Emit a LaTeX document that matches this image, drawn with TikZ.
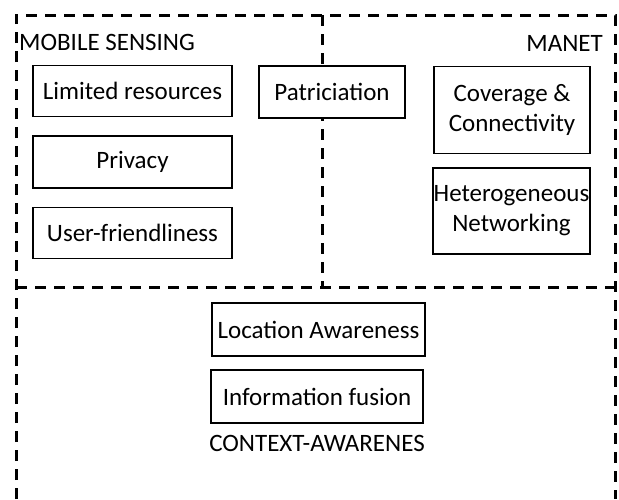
\documentclass[tikz,border=0pt]{standalone}
\usepackage{fontspec}
\setmainfont{Carlito}

\begin{document}
\begin{tikzpicture}[x=1pt,y=-1pt,
  issue/.style={draw,fill=white,line width=1.5pt,inner sep=0pt,align=center,
    font=\fontsize{25}{30}\selectfont},
  area/.style={line width=3pt,dash pattern=on 11pt off 8pt},
  arealabel/.style={inner sep=0pt,font=\fontsize{25}{30}\selectfont}]
\useasboundingbox (0,0) rectangle (619,499);

% dashed regions
\coordinate (tl) at (16,15);
\coordinate (tr) at (615,15);
\coordinate (bl) at (16,499);
\coordinate (br) at (615,499);
\coordinate (ml) at (16,287);
\coordinate (mr) at (615,287);
\coordinate (mt) at (322,15);
\coordinate (mb) at (322,287);
\draw[area] (bl) -- (tl) -- (tr) -- (br);
\draw[area] (ml) -- (mr);
\draw[area] (mt) -- (mb);

% mobile sensing
\node[arealabel,anchor=west] (mslabel) at (19,42) {MOBILE SENSING};
\node[issue,minimum width=199pt,minimum height=51pt] (limited) at (132.5,91) {Limited resources};
\node[issue,minimum width=199pt,minimum height=52pt] (privacy) at (132.5,162) {Privacy};
\node[issue,minimum width=199pt,minimum height=51pt] (userfr) at (132.5,233) {User-friendliness};

\node[issue,minimum width=146pt,minimum height=52pt] (partic) at (332,92) {Patriciation};

% manet
\node[arealabel,anchor=east] (manetlabel) at (603,43) {MANET};
\node[issue,minimum width=156pt,minimum height=87pt] (coverage) at (512,110) {Coverage \&\\Connectivity};
\node[issue,minimum width=157pt,minimum height=86pt] (hetnet) at (511.5,211) {Heterogeneous\\Networking};

% context awareness
\node[issue,minimum width=213pt,minimum height=53pt] (location) at (318.5,329.5) {Location Awareness};
\node[issue,minimum width=212pt,minimum height=53pt] (fusion) at (317,396.5) {Information fusion};
\node[arealabel] (ctxlabel) at (317,443) {CONTEXT-AWARENES};
\end{tikzpicture}
\end{document}
